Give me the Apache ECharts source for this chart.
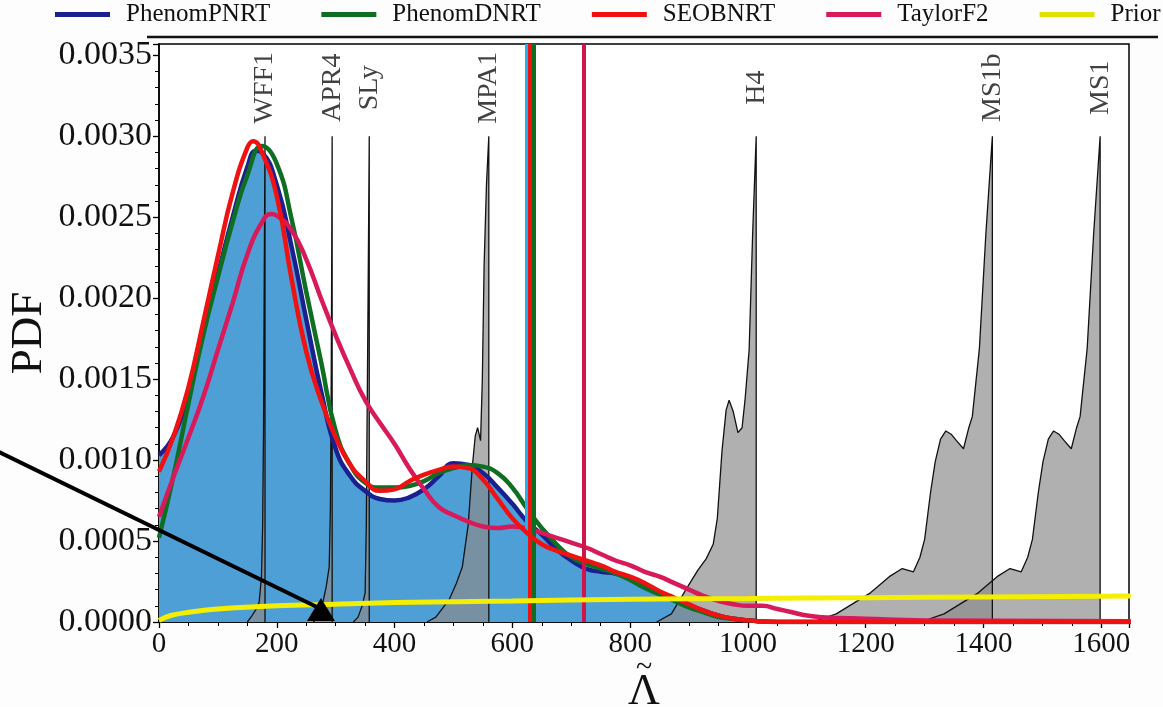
<!DOCTYPE html>
<html>
<head>
<meta charset="utf-8">
<script src="https://cdn.jsdelivr.net/npm/echarts@6/dist/echarts.min.js"></script>
<style>
  html, body { margin: 0; padding: 0; background: #fdfdfd; }
  #chart { width: 1163px; height: 707px; }
</style>
</head>
<body>
<div id="chart"></div>
<script>
// Posterior PDFs of the tidal deformability (Lambda-tilde, PDF) per waveform model
const phenomPNRT = [
  [0,0.00103],[25,0.00115],[50,0.00142],[75,0.00181],[100,0.00215],[125,0.0025],[150,0.00281],
  [165,0.00291],[175,0.0029],[200,0.0027],[225,0.00232],[250,0.00187],[275,0.00143],
  [300,0.00107],[325,0.0009],[350,0.00081],[375,0.00076],[400,0.00075],[425,0.00077],
  [450,0.00082],[475,0.0009],[500,0.00098],[525,0.00097],[550,0.00092],[575,0.00083],
  [600,0.00073],[625,0.00062],[650,0.00054],[675,0.00045],[700,0.00038],[725,0.00033],
  [750,0.00031],[775,0.0003],[800,0.00027],[825,0.00023],[850,0.00018],[875,0.00014],
  [900,0.0001],[925,0.00007],[950,0.00004],[975,0.00002],[1000,0.00001],[1050,0],[1650,0]
];
const phenomDNRT = [
  [0,0.00052],[25,0.00091],[50,0.00135],[75,0.00177],[100,0.00213],[125,0.00247],[150,0.00276],
  [175,0.00294],[200,0.00283],[225,0.00249],[250,0.00204],[275,0.00161],[300,0.00118],
  [325,0.00097],[350,0.00086],[375,0.00083],[400,0.00083],[425,0.00084],[450,0.00087],
  [475,0.00092],[500,0.00095],[525,0.00097],[550,0.00096],[575,0.00092],[600,0.00083],
  [625,0.0007],[650,0.00058],[675,0.00048],[700,0.0004],[725,0.00036],[750,0.00033],
  [775,0.0003],[800,0.00026],[825,0.00021],[850,0.00017],[875,0.00013],[900,0.00009],
  [925,0.00006],[950,0.00003],[975,0.00002],[1000,0.00001],[1050,0],[1650,0]
];
const seobNRT = [
  [0,0.00093],[25,0.00115],[50,0.00145],[75,0.00185],[100,0.00226],[125,0.00265],[150,0.00293],
  [160,0.00297],[175,0.0029],[200,0.00263],[225,0.00212],[250,0.00167],[275,0.00137],
  [300,0.00114],[325,0.00097],[350,0.00087],[375,0.00081],[400,0.00082],[425,0.00087],
  [450,0.00091],[475,0.00094],[500,0.00096],[525,0.00095],[550,0.00088],[575,0.00076],
  [600,0.00064],[625,0.00055],[650,0.00048],[675,0.00044],[700,0.00041],[725,0.00038],
  [750,0.00035],[775,0.00031],[800,0.00028],[825,0.00024],[850,0.00019],[875,0.00015],
  [900,0.00011],[925,0.00007],[950,0.00004],[975,0.00002],[1000,0.00001],[1050,0],[1650,0]
];
const taylorF2 = [
  [0,0.00065],[25,0.0009],[50,0.00114],[75,0.00139],[100,0.00168],[125,0.00197],[150,0.00227],
  [175,0.00247],[190,0.00252],[200,0.00251],[225,0.00242],[250,0.00224],[275,0.002],
  [300,0.00177],[325,0.00156],[350,0.00137],[375,0.00123],[400,0.0011],[425,0.00095],
  [450,0.00082],[475,0.00071],[500,0.00066],[525,0.00062],[550,0.00059],[575,0.00058],
  [600,0.00059],[625,0.00058],[650,0.00055],[675,0.00052],[700,0.00049],[725,0.00046],
  [750,0.00042],[775,0.00038],[800,0.00035],[825,0.00031],[850,0.00028],[875,0.00024],
  [900,0.0002],[925,0.00016],[950,0.00013],[975,0.00011],[1000,0.0001],[1025,0.0001],
  [1050,0.00008],[1075,0.00006],[1100,0.00004],[1125,0.00003],[1200,0.00002],[1300,0.00001],
  [1650,0.000005]
];
const prior = [
  [0,0.00001],[20,0.00004],[50,0.00006],[100,0.00008],[200,0.0001],[300,0.00011],
  [400,0.00012],[600,0.00013],[800,0.00014],[1000,0.000145],[1200,0.00015],[1400,0.000155],
  [1650,0.00016]
];

// 90% upper bounds of each posterior
const boundPNRT = 623;
const boundDNRT = 637;
const boundSEOB = 630;
const boundTF2 = 722;

// Equation-of-state predictions (peak = EOS value)
const eosNames = ['WFF1', 'APR4', 'SLy', 'MPA1', 'H4', 'MS1b', 'MS1'];
const eosPeaks = [180, 294, 357, 560, 1014, 1415, 1598];
const eosLabelY = 0.0033;
const eosWFF1 = [[150,0],[158,0.00004],[165,0.00008],[170,0.00012],[174,0.00028],[176,0.0006],
  [177.5,0.0012],[178.5,0.002],[180,0.003],[180,0]];
const eosAPR4 = [[262,0],[270,0.00003],[277,0.0001],[284,0.00022],[289,0.00034],[291,0.0007],
  [292,0.0012],[293,0.002],[294,0.003],[294,0]];
const eosSLy = [[330,0],[338,0.00003],[345,0.0001],[350,0.00018],[352,0.0006],[353,0.0011],
  [355,0.002],[357,0.003],[357,0]];
const eosMPA1 = [[455,0],[470,0.00003],[493,0.00014],[505,0.00024],[515,0.00034],[525,0.0006],
  [532,0.00096],[537,0.00115],[541,0.0012],[546,0.00112],[549,0.0015],[552,0.0022],
  [556,0.0027],[560,0.003],[560,0]];
const eosH4 = [[845,0],[870,0.00005],[898,0.00022],[915,0.00032],[929,0.00039],[941,0.00048],
  [948,0.00064],[956,0.00106],[963,0.00131],[968,0.00137],[975,0.0013],[983,0.00117],
  [990,0.0012],[995,0.00137],[1002,0.00168],[1008,0.0024],[1014,0.003],[1014,0]];
const eosMS1b = [[1110,0],[1150,0.00005],[1208,0.00018],[1240,0.00028],[1262,0.00033],
  [1281,0.00031],[1292,0.0004],[1300,0.00051],[1310,0.0008],[1318,0.00099],[1327,0.00113],
  [1336,0.00118],[1345,0.00116],[1354,0.00112],[1366,0.00107],[1375,0.0012],[1381,0.00127],
  [1393,0.00169],[1404,0.0024],[1415,0.003],[1415,0]];
const eosMS1 = [[1293,0],[1333,0.00005],[1391,0.00018],[1423,0.00028],[1445,0.00033],
  [1464,0.00031],[1475,0.0004],[1483,0.00051],[1493,0.0008],[1501,0.00099],[1510,0.00113],
  [1519,0.00118],[1528,0.00116],[1537,0.00112],[1549,0.00107],[1558,0.0012],[1564,0.00127],
  [1576,0.00169],[1587,0.0024],[1598,0.003],[1598,0]];
const eosCurves = [eosWFF1, eosAPR4, eosSLy, eosMPA1, eosH4, eosMS1b, eosMS1];

// Annotation arrow (data coordinates: tail, head)
const arrowFrom = [-272, 0.00105];
const arrowTo = [275, 0.00008];

const SERIF = 'Liberation Serif';

const chart = echarts.init(document.getElementById('chart'), null, { renderer: 'canvas' });

function posterior(name, data, color, width, bound, boundColor, boundWidth, z) {
  return {
    name, type: 'line', data, smooth: 0.5, symbol: 'none',
    z, lineStyle: { color, width }, itemStyle: { color },
    markLine: {
      silent: true, symbol: 'none', label: { show: false },
      lineStyle: { color: boundColor, width: boundWidth, type: 'solid' },
      data: [{ xAxis: bound }]
    }
  };
}

const series = [];
// shaded posterior area of PhenomPNRT
series.push({
  name: 'PhenomPNRT area', type: 'line', data: phenomPNRT, smooth: 0.5,
  symbol: 'none', z: 1, lineStyle: { width: 0 },
  areaStyle: { color: '#4f9fd7', opacity: 1 }
});
eosCurves.forEach((d, i) => {
  series.push({
    name: eosNames[i], type: 'line', data: d, smooth: false, symbol: 'none', z: 2,
    lineStyle: { color: '#111', width: 1.3 },
    areaStyle: { color: '#8a8a8a', opacity: 0.68 }
  });
});
series.push(posterior('PhenomPNRT', phenomPNRT, '#1a2090', 4.5, boundPNRT, '#25aee8', 3, 4));
series.push(posterior('PhenomDNRT', phenomDNRT, '#0f6e22', 4.5, boundDNRT, '#0f6e22', 4, 4));
series.push(posterior('SEOBNRT', seobNRT, '#f01212', 4.5, boundSEOB, '#f01212', 4, 5));
series.push(posterior('TaylorF2', taylorF2, '#d81a5a', 4.5, boundTF2, '#d0154a', 4, 4));
series.push({
  name: 'Prior', type: 'line', data: prior, smooth: 0.4, symbol: 'none', z: 6,
  lineStyle: { color: '#f4ee00', width: 5 }, itemStyle: { color: '#e2e000' }
});
series.push({
  name: 'EOS labels', type: 'scatter', z: 7, symbolSize: 0, silent: true,
  data: eosNames.map((n, i) => [eosPeaks[i], eosLabelY, n]),
  label: {
    show: true, position: 'inside', rotate: 90, formatter: p => p.value[2],
    fontFamily: SERIF, fontSize: 28, color: '#111'
  }
});

chart.setOption({
  animation: false,
  backgroundColor: '#fdfdfd',
  grid: {
    left: 159, right: 34, top: 44, bottom: 85, outerBoundsMode: 'none', containLabel: false,
    show: true, borderColor: '#000', borderWidth: 1.5, backgroundColor: '#fff'
  },
  legend: {
    data: ['PhenomPNRT', 'PhenomDNRT', 'SEOBNRT', 'TaylorF2', 'Prior'],
    left: 55, top: 2, width: 1160, padding: 0, itemWidth: 55, itemHeight: 5, itemGap: 51, icon: 'rect',
    textStyle: { fontFamily: SERIF, fontSize: 25, color: '#111', padding: [0, 0, 0, 11] }
  },
  xAxis: {
    type: 'value', min: 0, max: 1647, interval: 200,
    name: '{t|~}\n{l|Λ}', nameLocation: 'middle', nameGap: 40, nameMoveOverlap: false,
    nameTextStyle: {
      fontFamily: SERIF, color: '#111', align: 'center', verticalAlign: 'top',
      rich: {
        t: { fontFamily: SERIF, fontSize: 30, lineHeight: 12, color: '#111', align: 'center' },
        l: { fontFamily: SERIF, fontSize: 44, lineHeight: 36, color: '#111', align: 'center' }
      }
    },
    axisLine: { lineStyle: { color: '#000', width: 1.5 } },
    axisTick: { show: true, length: 6, lineStyle: { color: '#000', width: 1.3 } },
    minorTick: { show: true, splitNumber: 4, length: 4, lineStyle: { color: '#000', width: 1 } },
    splitLine: { show: false },
    axisLabel: { fontFamily: SERIF, fontSize: 29, color: '#111', margin: 8, formatter: v => String(v) }
  },
  yAxis: {
    type: 'value', min: 0, max: 0.00357, interval: 0.0005,
    name: 'PDF', nameLocation: 'middle', nameGap: 107, nameRotate: 90, nameMoveOverlap: false,
    nameTextStyle: { fontFamily: SERIF, fontSize: 45, color: '#111' },
    axisLine: { show: true, lineStyle: { color: '#000', width: 1.5 } },
    axisTick: { show: true, length: 6, lineStyle: { color: '#000', width: 1.3 } },
    minorTick: { show: true, splitNumber: 5, length: 4, lineStyle: { color: '#000', width: 1 } },
    splitLine: { show: false },
    axisLabel: { fontFamily: SERIF, fontSize: 34, color: '#111', margin: 7, formatter: v => v.toFixed(4) }
  },
  series
});

// legend underline and annotation arrow
const tail = chart.convertToPixel({ gridIndex: 0 }, arrowFrom);
const head = chart.convertToPixel({ gridIndex: 0 }, arrowTo);
chart.setOption({
  graphic: [
    { type: 'line', z: 100, shape: { x1: 147, y1: 37, x2: 1158, y2: 37 }, style: { stroke: '#111', lineWidth: 2.5 } },
    { type: 'line', z: 100, shape: { x1: tail[0], y1: tail[1], x2: head[0], y2: head[1] }, style: { stroke: '#000', lineWidth: 4 } },
    { type: 'polygon', z: 100, shape: { points: [[head[0], head[1] - 11], [head[0] - 14, head[1] + 12], [head[0] + 14, head[1] + 12]] }, style: { fill: '#000' } }
  ]
});
</script>
</body>
</html>
